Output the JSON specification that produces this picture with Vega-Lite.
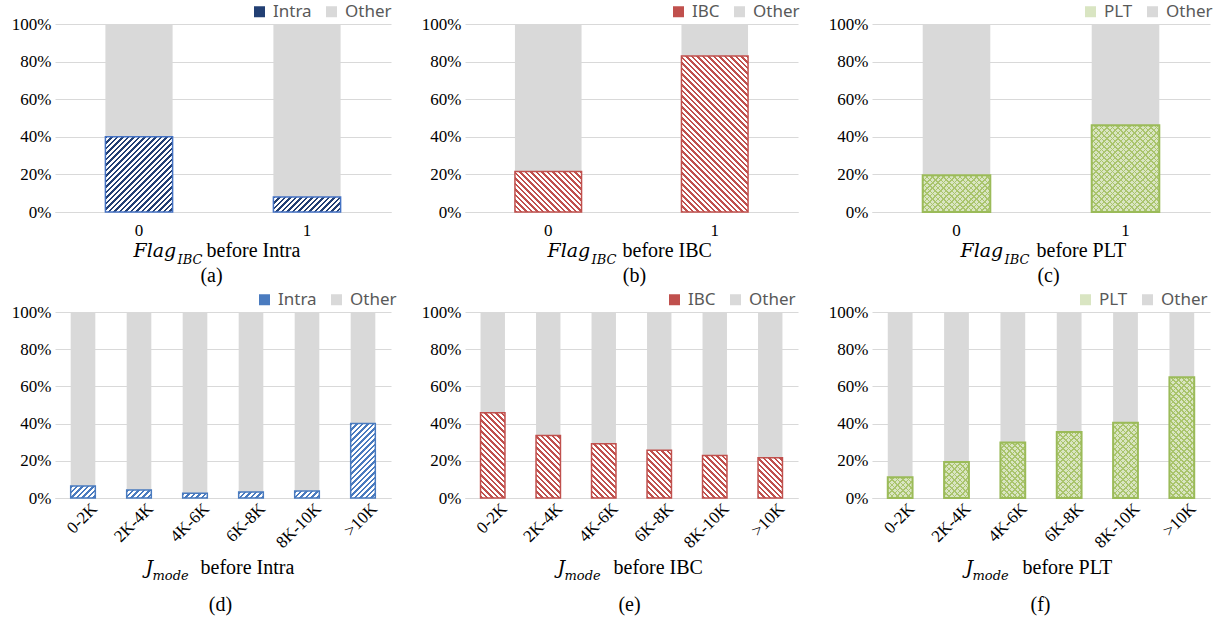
{
"$schema": "https://vega.github.io/schema/vega-lite/v6.json",
"padding": {"left": 11, "top": 3, "right": 5, "bottom": 5},
"params": [{"name": "hatch", "value": [
{"offset":0,"color":"#fff0"},{"offset":0.0102,"color":"#fff0"},{"offset":0.0102,"color":"#fff"},{"offset":0.0227,"color":"#fff"},
{"offset":0.0227,"color":"#fff0"},{"offset":0.033,"color":"#fff0"},{"offset":0.033,"color":"#fff"},{"offset":0.0455,"color":"#fff"},
{"offset":0.0455,"color":"#fff0"},{"offset":0.0557,"color":"#fff0"},{"offset":0.0557,"color":"#fff"},{"offset":0.0682,"color":"#fff"},
{"offset":0.0682,"color":"#fff0"},{"offset":0.0784,"color":"#fff0"},{"offset":0.0784,"color":"#fff"},{"offset":0.0909,"color":"#fff"},
{"offset":0.0909,"color":"#fff0"},{"offset":0.1011,"color":"#fff0"},{"offset":0.1011,"color":"#fff"},{"offset":0.1136,"color":"#fff"},
{"offset":0.1136,"color":"#fff0"},{"offset":0.1239,"color":"#fff0"},{"offset":0.1239,"color":"#fff"},{"offset":0.1364,"color":"#fff"},
{"offset":0.1364,"color":"#fff0"},{"offset":0.1466,"color":"#fff0"},{"offset":0.1466,"color":"#fff"},{"offset":0.1591,"color":"#fff"},
{"offset":0.1591,"color":"#fff0"},{"offset":0.1693,"color":"#fff0"},{"offset":0.1693,"color":"#fff"},{"offset":0.1818,"color":"#fff"},
{"offset":0.1818,"color":"#fff0"},{"offset":0.192,"color":"#fff0"},{"offset":0.192,"color":"#fff"},{"offset":0.2045,"color":"#fff"},
{"offset":0.2045,"color":"#fff0"},{"offset":0.2148,"color":"#fff0"},{"offset":0.2148,"color":"#fff"},{"offset":0.2273,"color":"#fff"},
{"offset":0.2273,"color":"#fff0"},{"offset":0.2375,"color":"#fff0"},{"offset":0.2375,"color":"#fff"},{"offset":0.25,"color":"#fff"},
{"offset":0.25,"color":"#fff0"},{"offset":0.2602,"color":"#fff0"},{"offset":0.2602,"color":"#fff"},{"offset":0.2727,"color":"#fff"},
{"offset":0.2727,"color":"#fff0"},{"offset":0.283,"color":"#fff0"},{"offset":0.283,"color":"#fff"},{"offset":0.2955,"color":"#fff"},
{"offset":0.2955,"color":"#fff0"},{"offset":0.3057,"color":"#fff0"},{"offset":0.3057,"color":"#fff"},{"offset":0.3182,"color":"#fff"},
{"offset":0.3182,"color":"#fff0"},{"offset":0.3284,"color":"#fff0"},{"offset":0.3284,"color":"#fff"},{"offset":0.3409,"color":"#fff"},
{"offset":0.3409,"color":"#fff0"},{"offset":0.3511,"color":"#fff0"},{"offset":0.3511,"color":"#fff"},{"offset":0.3636,"color":"#fff"},
{"offset":0.3636,"color":"#fff0"},{"offset":0.3739,"color":"#fff0"},{"offset":0.3739,"color":"#fff"},{"offset":0.3864,"color":"#fff"},
{"offset":0.3864,"color":"#fff0"},{"offset":0.3966,"color":"#fff0"},{"offset":0.3966,"color":"#fff"},{"offset":0.4091,"color":"#fff"},
{"offset":0.4091,"color":"#fff0"},{"offset":0.4193,"color":"#fff0"},{"offset":0.4193,"color":"#fff"},{"offset":0.4318,"color":"#fff"},
{"offset":0.4318,"color":"#fff0"},{"offset":0.442,"color":"#fff0"},{"offset":0.442,"color":"#fff"},{"offset":0.4545,"color":"#fff"},
{"offset":0.4545,"color":"#fff0"},{"offset":0.4648,"color":"#fff0"},{"offset":0.4648,"color":"#fff"},{"offset":0.4773,"color":"#fff"},
{"offset":0.4773,"color":"#fff0"},{"offset":0.4875,"color":"#fff0"},{"offset":0.4875,"color":"#fff"},{"offset":0.5,"color":"#fff"},
{"offset":0.5,"color":"#fff0"},{"offset":0.5102,"color":"#fff0"},{"offset":0.5102,"color":"#fff"},{"offset":0.5227,"color":"#fff"},
{"offset":0.5227,"color":"#fff0"},{"offset":0.533,"color":"#fff0"},{"offset":0.533,"color":"#fff"},{"offset":0.5455,"color":"#fff"},
{"offset":0.5455,"color":"#fff0"},{"offset":0.5557,"color":"#fff0"},{"offset":0.5557,"color":"#fff"},{"offset":0.5682,"color":"#fff"},
{"offset":0.5682,"color":"#fff0"},{"offset":0.5784,"color":"#fff0"},{"offset":0.5784,"color":"#fff"},{"offset":0.5909,"color":"#fff"},
{"offset":0.5909,"color":"#fff0"},{"offset":0.6011,"color":"#fff0"},{"offset":0.6011,"color":"#fff"},{"offset":0.6136,"color":"#fff"},
{"offset":0.6136,"color":"#fff0"},{"offset":0.6239,"color":"#fff0"},{"offset":0.6239,"color":"#fff"},{"offset":0.6364,"color":"#fff"},
{"offset":0.6364,"color":"#fff0"},{"offset":0.6466,"color":"#fff0"},{"offset":0.6466,"color":"#fff"},{"offset":0.6591,"color":"#fff"},
{"offset":0.6591,"color":"#fff0"},{"offset":0.6693,"color":"#fff0"},{"offset":0.6693,"color":"#fff"},{"offset":0.6818,"color":"#fff"},
{"offset":0.6818,"color":"#fff0"},{"offset":0.692,"color":"#fff0"},{"offset":0.692,"color":"#fff"},{"offset":0.7045,"color":"#fff"},
{"offset":0.7045,"color":"#fff0"},{"offset":0.7148,"color":"#fff0"},{"offset":0.7148,"color":"#fff"},{"offset":0.7273,"color":"#fff"},
{"offset":0.7273,"color":"#fff0"},{"offset":0.7375,"color":"#fff0"},{"offset":0.7375,"color":"#fff"},{"offset":0.75,"color":"#fff"},
{"offset":0.75,"color":"#fff0"},{"offset":0.7602,"color":"#fff0"},{"offset":0.7602,"color":"#fff"},{"offset":0.7727,"color":"#fff"},
{"offset":0.7727,"color":"#fff0"},{"offset":0.783,"color":"#fff0"},{"offset":0.783,"color":"#fff"},{"offset":0.7955,"color":"#fff"},
{"offset":0.7955,"color":"#fff0"},{"offset":0.8057,"color":"#fff0"},{"offset":0.8057,"color":"#fff"},{"offset":0.8182,"color":"#fff"},
{"offset":0.8182,"color":"#fff0"},{"offset":0.8284,"color":"#fff0"},{"offset":0.8284,"color":"#fff"},{"offset":0.8409,"color":"#fff"},
{"offset":0.8409,"color":"#fff0"},{"offset":0.8511,"color":"#fff0"},{"offset":0.8511,"color":"#fff"},{"offset":0.8636,"color":"#fff"},
{"offset":0.8636,"color":"#fff0"},{"offset":0.8739,"color":"#fff0"},{"offset":0.8739,"color":"#fff"},{"offset":0.8864,"color":"#fff"},
{"offset":0.8864,"color":"#fff0"},{"offset":0.8966,"color":"#fff0"},{"offset":0.8966,"color":"#fff"},{"offset":0.9091,"color":"#fff"},
{"offset":0.9091,"color":"#fff0"},{"offset":0.9193,"color":"#fff0"},{"offset":0.9193,"color":"#fff"},{"offset":0.9318,"color":"#fff"},
{"offset":0.9318,"color":"#fff0"},{"offset":0.942,"color":"#fff0"},{"offset":0.942,"color":"#fff"},{"offset":0.9545,"color":"#fff"},
{"offset":0.9545,"color":"#fff0"},{"offset":0.9648,"color":"#fff0"},{"offset":0.9648,"color":"#fff"},{"offset":0.9773,"color":"#fff"},
{"offset":0.9773,"color":"#fff0"},{"offset":0.9875,"color":"#fff0"},{"offset":0.9875,"color":"#fff"},{"offset":1,"color":"#fff"}
]},
{"name": "hatchG", "value": [
{"offset":0,"color":"#a9c46c"},{"offset":0.0068,"color":"#a9c46c"},{"offset":0.0068,"color":"#fff0"},{"offset":0.0227,"color":"#fff0"},
{"offset":0.0227,"color":"#a9c46c"},{"offset":0.0295,"color":"#a9c46c"},{"offset":0.0295,"color":"#fff0"},{"offset":0.0455,"color":"#fff0"},
{"offset":0.0455,"color":"#a9c46c"},{"offset":0.0523,"color":"#a9c46c"},{"offset":0.0523,"color":"#fff0"},{"offset":0.0682,"color":"#fff0"},
{"offset":0.0682,"color":"#a9c46c"},{"offset":0.075,"color":"#a9c46c"},{"offset":0.075,"color":"#fff0"},{"offset":0.0909,"color":"#fff0"},
{"offset":0.0909,"color":"#a9c46c"},{"offset":0.0977,"color":"#a9c46c"},{"offset":0.0977,"color":"#fff0"},{"offset":0.1136,"color":"#fff0"},
{"offset":0.1136,"color":"#a9c46c"},{"offset":0.1204,"color":"#a9c46c"},{"offset":0.1204,"color":"#fff0"},{"offset":0.1364,"color":"#fff0"},
{"offset":0.1364,"color":"#a9c46c"},{"offset":0.1432,"color":"#a9c46c"},{"offset":0.1432,"color":"#fff0"},{"offset":0.1591,"color":"#fff0"},
{"offset":0.1591,"color":"#a9c46c"},{"offset":0.1659,"color":"#a9c46c"},{"offset":0.1659,"color":"#fff0"},{"offset":0.1818,"color":"#fff0"},
{"offset":0.1818,"color":"#a9c46c"},{"offset":0.1886,"color":"#a9c46c"},{"offset":0.1886,"color":"#fff0"},{"offset":0.2045,"color":"#fff0"},
{"offset":0.2045,"color":"#a9c46c"},{"offset":0.2113,"color":"#a9c46c"},{"offset":0.2113,"color":"#fff0"},{"offset":0.2273,"color":"#fff0"},
{"offset":0.2273,"color":"#a9c46c"},{"offset":0.2341,"color":"#a9c46c"},{"offset":0.2341,"color":"#fff0"},{"offset":0.25,"color":"#fff0"},
{"offset":0.25,"color":"#a9c46c"},{"offset":0.2568,"color":"#a9c46c"},{"offset":0.2568,"color":"#fff0"},{"offset":0.2727,"color":"#fff0"},
{"offset":0.2727,"color":"#a9c46c"},{"offset":0.2795,"color":"#a9c46c"},{"offset":0.2795,"color":"#fff0"},{"offset":0.2955,"color":"#fff0"},
{"offset":0.2955,"color":"#a9c46c"},{"offset":0.3023,"color":"#a9c46c"},{"offset":0.3023,"color":"#fff0"},{"offset":0.3182,"color":"#fff0"},
{"offset":0.3182,"color":"#a9c46c"},{"offset":0.325,"color":"#a9c46c"},{"offset":0.325,"color":"#fff0"},{"offset":0.3409,"color":"#fff0"},
{"offset":0.3409,"color":"#a9c46c"},{"offset":0.3477,"color":"#a9c46c"},{"offset":0.3477,"color":"#fff0"},{"offset":0.3636,"color":"#fff0"},
{"offset":0.3636,"color":"#a9c46c"},{"offset":0.3704,"color":"#a9c46c"},{"offset":0.3704,"color":"#fff0"},{"offset":0.3864,"color":"#fff0"},
{"offset":0.3864,"color":"#a9c46c"},{"offset":0.3932,"color":"#a9c46c"},{"offset":0.3932,"color":"#fff0"},{"offset":0.4091,"color":"#fff0"},
{"offset":0.4091,"color":"#a9c46c"},{"offset":0.4159,"color":"#a9c46c"},{"offset":0.4159,"color":"#fff0"},{"offset":0.4318,"color":"#fff0"},
{"offset":0.4318,"color":"#a9c46c"},{"offset":0.4386,"color":"#a9c46c"},{"offset":0.4386,"color":"#fff0"},{"offset":0.4545,"color":"#fff0"},
{"offset":0.4545,"color":"#a9c46c"},{"offset":0.4613,"color":"#a9c46c"},{"offset":0.4613,"color":"#fff0"},{"offset":0.4773,"color":"#fff0"},
{"offset":0.4773,"color":"#a9c46c"},{"offset":0.4841,"color":"#a9c46c"},{"offset":0.4841,"color":"#fff0"},{"offset":0.5,"color":"#fff0"},
{"offset":0.5,"color":"#a9c46c"},{"offset":0.5068,"color":"#a9c46c"},{"offset":0.5068,"color":"#fff0"},{"offset":0.5227,"color":"#fff0"},
{"offset":0.5227,"color":"#a9c46c"},{"offset":0.5295,"color":"#a9c46c"},{"offset":0.5295,"color":"#fff0"},{"offset":0.5455,"color":"#fff0"},
{"offset":0.5455,"color":"#a9c46c"},{"offset":0.5523,"color":"#a9c46c"},{"offset":0.5523,"color":"#fff0"},{"offset":0.5682,"color":"#fff0"},
{"offset":0.5682,"color":"#a9c46c"},{"offset":0.575,"color":"#a9c46c"},{"offset":0.575,"color":"#fff0"},{"offset":0.5909,"color":"#fff0"},
{"offset":0.5909,"color":"#a9c46c"},{"offset":0.5977,"color":"#a9c46c"},{"offset":0.5977,"color":"#fff0"},{"offset":0.6136,"color":"#fff0"},
{"offset":0.6136,"color":"#a9c46c"},{"offset":0.6204,"color":"#a9c46c"},{"offset":0.6204,"color":"#fff0"},{"offset":0.6364,"color":"#fff0"},
{"offset":0.6364,"color":"#a9c46c"},{"offset":0.6432,"color":"#a9c46c"},{"offset":0.6432,"color":"#fff0"},{"offset":0.6591,"color":"#fff0"},
{"offset":0.6591,"color":"#a9c46c"},{"offset":0.6659,"color":"#a9c46c"},{"offset":0.6659,"color":"#fff0"},{"offset":0.6818,"color":"#fff0"},
{"offset":0.6818,"color":"#a9c46c"},{"offset":0.6886,"color":"#a9c46c"},{"offset":0.6886,"color":"#fff0"},{"offset":0.7045,"color":"#fff0"},
{"offset":0.7045,"color":"#a9c46c"},{"offset":0.7113,"color":"#a9c46c"},{"offset":0.7113,"color":"#fff0"},{"offset":0.7273,"color":"#fff0"},
{"offset":0.7273,"color":"#a9c46c"},{"offset":0.7341,"color":"#a9c46c"},{"offset":0.7341,"color":"#fff0"},{"offset":0.75,"color":"#fff0"},
{"offset":0.75,"color":"#a9c46c"},{"offset":0.7568,"color":"#a9c46c"},{"offset":0.7568,"color":"#fff0"},{"offset":0.7727,"color":"#fff0"},
{"offset":0.7727,"color":"#a9c46c"},{"offset":0.7795,"color":"#a9c46c"},{"offset":0.7795,"color":"#fff0"},{"offset":0.7955,"color":"#fff0"},
{"offset":0.7955,"color":"#a9c46c"},{"offset":0.8023,"color":"#a9c46c"},{"offset":0.8023,"color":"#fff0"},{"offset":0.8182,"color":"#fff0"},
{"offset":0.8182,"color":"#a9c46c"},{"offset":0.825,"color":"#a9c46c"},{"offset":0.825,"color":"#fff0"},{"offset":0.8409,"color":"#fff0"},
{"offset":0.8409,"color":"#a9c46c"},{"offset":0.8477,"color":"#a9c46c"},{"offset":0.8477,"color":"#fff0"},{"offset":0.8636,"color":"#fff0"},
{"offset":0.8636,"color":"#a9c46c"},{"offset":0.8704,"color":"#a9c46c"},{"offset":0.8704,"color":"#fff0"},{"offset":0.8864,"color":"#fff0"},
{"offset":0.8864,"color":"#a9c46c"},{"offset":0.8932,"color":"#a9c46c"},{"offset":0.8932,"color":"#fff0"},{"offset":0.9091,"color":"#fff0"},
{"offset":0.9091,"color":"#a9c46c"},{"offset":0.9159,"color":"#a9c46c"},{"offset":0.9159,"color":"#fff0"},{"offset":0.9318,"color":"#fff0"},
{"offset":0.9318,"color":"#a9c46c"},{"offset":0.9386,"color":"#a9c46c"},{"offset":0.9386,"color":"#fff0"},{"offset":0.9545,"color":"#fff0"},
{"offset":0.9545,"color":"#a9c46c"},{"offset":0.9613,"color":"#a9c46c"},{"offset":0.9613,"color":"#fff0"},{"offset":0.9773,"color":"#fff0"},
{"offset":0.9773,"color":"#a9c46c"},{"offset":0.9841,"color":"#a9c46c"},{"offset":0.9841,"color":"#fff0"},{"offset":1,"color":"#fff0"}
]}],
"columns": 3,
"bounds": "flush",
"spacing": {"row": 100, "column": 74},
"resolve": {"scale": {"fill": "independent"}, "legend": {"fill": "independent"}},
"concat": [
{
 "width": 336, "height": 188,
 "data": {"values": [
  {"cat": "0", "series": "Intra", "v": 0.40}, {"cat": "0", "series": "Other", "v": 0.60},
  {"cat": "1", "series": "Intra", "v": 0.08}, {"cat": "1", "series": "Other", "v": 0.92}
 ]},
 "layer": [
  {"mark": {"type": "bar"},
   "encoding": {
    "x": {"field": "cat", "type": "nominal", "sort": null, "scale": {"paddingInner": 0.6, "paddingOuter": 0.3}, "axis": {"orient": "bottom", "labelPadding": 10, "title": "before Intra", "titleX": 151, "titleY": 44}},
    "y": {"field": "v", "type": "quantitative", "stack": "zero", "scale": {"domain": [0, 1], "nice": false}, "axis": {"values": [0, 0.2, 0.4, 0.6, 0.8, 1], "format": ".0%", "title": null}},
    "fill": {"field": "series", "type": "nominal", "scale": {"domain": ["Intra", "Other"], "range": ["#223f73", "#d9d9d9"]}, "legend": {"title": null, "orient": "none", "direction": "horizontal", "legendX": 196, "legendY": -21}},
    "order": {"field": "series", "sort": "ascending"}
   }},
  {"mark": {"type": "bar", "strokeWidth": 1.5,
    "fill": {"expr": "datum.series === 'Other' ? 'transparent' : {gradient: 'linear', x1: 0, y1: 0, x2: 16262.4/(4515.84+pow(188*datum.v,2)), y2: 45496*datum.v/(4515.84+pow(188*datum.v,2)), stops: hatch}"},
    "stroke": {"expr": "datum.series === 'Other' ? null : '#4472c4'"}},
   "encoding": {
    "x": {"field": "cat", "type": "nominal", "sort": null, "axis": null},
    "y": {"field": "v", "type": "quantitative", "stack": "zero", "axis": {"values": [0, 0.2, 0.4, 0.6, 0.8, 1], "format": ".0%", "title": null}},
    "detail": {"field": "series", "type": "nominal"},
    "order": {"field": "series", "sort": "ascending"}
   }},
  {"data": {"values": []}, "mark": {"type": "point", "opacity": 0}, "encoding": {"x": {"field": "cat", "type": "nominal", "sort": null, "axis": {"orient": "bottom", "labels": false, "domain": false, "title": "Flag", "titleX": 78, "titleY": 44, "titleFont": "DejaVu Serif", "titleFontStyle": "italic", "titleFontSize": 19}}, "y": {"field": "v", "type": "quantitative", "axis": {"values": [0, 0.2, 0.4, 0.6, 0.8, 1], "format": ".0%", "title": null}}}},
  {"data": {"values": []}, "mark": {"type": "point", "opacity": 0}, "encoding": {"x": {"field": "cat", "type": "nominal", "sort": null, "axis": {"orient": "bottom", "labels": false, "domain": false, "title": "IBC", "titleX": 122, "titleY": 51, "titleFont": "DejaVu Serif", "titleFontStyle": "italic", "titleFontSize": 13}}, "y": {"field": "v", "type": "quantitative", "axis": {"values": [0, 0.2, 0.4, 0.6, 0.8, 1], "format": ".0%", "title": null}}}},
  {"data": {"values": []}, "mark": {"type": "point", "opacity": 0}, "encoding": {"x": {"field": "cat", "type": "nominal", "sort": null, "axis": {"orient": "bottom", "labels": false, "domain": false, "title": "(a)", "titleX": 156, "titleY": 69, "titleAlign": "center"}}, "y": {"field": "v", "type": "quantitative", "axis": {"values": [0, 0.2, 0.4, 0.6, 0.8, 1], "format": ".0%", "title": null}}}}
 ],
 "resolve": {"axis": {"x": "independent"}}
},
{
 "width": 333, "height": 188,
 "data": {"values": [
  {"cat": "0", "series": "IBC", "v": 0.215}, {"cat": "0", "series": "Other", "v": 0.785},
  {"cat": "1", "series": "IBC", "v": 0.83}, {"cat": "1", "series": "Other", "v": 0.17}
 ]},
 "layer": [
  {"mark": {"type": "bar"},
   "encoding": {
    "x": {"field": "cat", "type": "nominal", "sort": null, "scale": {"paddingInner": 0.6, "paddingOuter": 0.3}, "axis": {"orient": "bottom", "labelPadding": 10, "title": "before IBC", "titleX": 157, "titleY": 44}},
    "y": {"field": "v", "type": "quantitative", "stack": "zero", "scale": {"domain": [0, 1], "nice": false}, "axis": {"values": [0, 0.2, 0.4, 0.6, 0.8, 1], "format": ".0%", "title": null}},
    "fill": {"field": "series", "type": "nominal", "scale": {"domain": ["IBC", "Other"], "range": ["#c0504d", "#d9d9d9"]}, "legend": {"title": null, "orient": "none", "direction": "horizontal", "legendX": 205, "legendY": -21}},
    "order": {"field": "series", "sort": "ascending"}
   }},
  {"mark": {"type": "bar", "strokeWidth": 1.5,
    "fill": {"expr": "datum.series === 'Other' ? 'transparent' : {gradient: 'linear', x1: 0, y1: 1, x2: 16117.2/(4435.56+pow(188*datum.v,2)), y2: 1-45496*datum.v/(4435.56+pow(188*datum.v,2)), stops: hatch}"},
    "stroke": {"expr": "datum.series === 'Other' ? null : '#c0504d'"}},
   "encoding": {
    "x": {"field": "cat", "type": "nominal", "sort": null, "axis": null},
    "y": {"field": "v", "type": "quantitative", "stack": "zero", "axis": {"values": [0, 0.2, 0.4, 0.6, 0.8, 1], "format": ".0%", "title": null}},
    "detail": {"field": "series", "type": "nominal"},
    "order": {"field": "series", "sort": "ascending"}
   }},
  {"data": {"values": []}, "mark": {"type": "point", "opacity": 0}, "encoding": {"x": {"field": "cat", "type": "nominal", "sort": null, "axis": {"orient": "bottom", "labels": false, "domain": false, "title": "Flag", "titleX": 82, "titleY": 44, "titleFont": "DejaVu Serif", "titleFontStyle": "italic", "titleFontSize": 19}}, "y": {"field": "v", "type": "quantitative", "axis": {"values": [0, 0.2, 0.4, 0.6, 0.8, 1], "format": ".0%", "title": null}}}},
  {"data": {"values": []}, "mark": {"type": "point", "opacity": 0}, "encoding": {"x": {"field": "cat", "type": "nominal", "sort": null, "axis": {"orient": "bottom", "labels": false, "domain": false, "title": "IBC", "titleX": 126, "titleY": 51, "titleFont": "DejaVu Serif", "titleFontStyle": "italic", "titleFontSize": 13}}, "y": {"field": "v", "type": "quantitative", "axis": {"values": [0, 0.2, 0.4, 0.6, 0.8, 1], "format": ".0%", "title": null}}}},
  {"data": {"values": []}, "mark": {"type": "point", "opacity": 0}, "encoding": {"x": {"field": "cat", "type": "nominal", "sort": null, "axis": {"orient": "bottom", "labels": false, "domain": false, "title": "(b)", "titleX": 169, "titleY": 69, "titleAlign": "center"}}, "y": {"field": "v", "type": "quantitative", "axis": {"values": [0, 0.2, 0.4, 0.6, 0.8, 1], "format": ".0%", "title": null}}}}
 ],
 "resolve": {"axis": {"x": "independent"}}
},
{
 "width": 338, "height": 188,
 "data": {"values": [
  {"cat": "0", "series": "PLT", "v": 0.196}, {"cat": "0", "series": "Other", "v": 0.804},
  {"cat": "1", "series": "PLT", "v": 0.461}, {"cat": "1", "series": "Other", "v": 0.539}
 ]},
 "layer": [
  {"mark": {"type": "bar"},
   "encoding": {
    "x": {"field": "cat", "type": "nominal", "sort": null, "scale": {"paddingInner": 0.6, "paddingOuter": 0.3}, "axis": {"orient": "bottom", "labelPadding": 10, "title": "before PLT", "titleX": 164, "titleY": 44}},
    "y": {"field": "v", "type": "quantitative", "stack": "zero", "scale": {"domain": [0, 1], "nice": false}, "axis": {"values": [0, 0.2, 0.4, 0.6, 0.8, 1], "format": ".0%", "title": null}},
    "fill": {"field": "series", "type": "nominal", "scale": {"domain": ["PLT", "Other"], "range": ["#d9e5c2", "#d9d9d9"]}, "legend": {"title": null, "orient": "none", "direction": "horizontal", "legendX": 210, "legendY": -21}},
    "order": {"field": "series", "sort": "descending"}
   }},
  {"mark": {"type": "bar",
    "fill": {"expr": "datum.series === 'Other' ? 'transparent' : {gradient: 'linear', x1: 0, y1: 0, x2: 16359.2/(4569.76+pow(188*datum.v,2)), y2: 45496*datum.v/(4569.76+pow(188*datum.v,2)), stops: hatchG}"}},
   "encoding": {
    "x": {"field": "cat", "type": "nominal", "sort": null, "axis": null},
    "y": {"field": "v", "type": "quantitative", "stack": "zero", "axis": {"values": [0, 0.2, 0.4, 0.6, 0.8, 1], "format": ".0%", "title": null}},
    "detail": {"field": "series", "type": "nominal"},
    "order": {"field": "series", "sort": "descending"}
   }},
  {"mark": {"type": "bar", "strokeWidth": 2,
    "fill": {"expr": "datum.series === 'Other' ? 'transparent' : {gradient: 'linear', x1: 0, y1: 1, x2: 16359.2/(4569.76+pow(188*datum.v,2)), y2: 1-45496*datum.v/(4569.76+pow(188*datum.v,2)), stops: hatchG}"},
    "stroke": {"expr": "datum.series === 'Other' ? null : '#9bbb59'"}},
   "encoding": {
    "x": {"field": "cat", "type": "nominal", "sort": null, "axis": null},
    "y": {"field": "v", "type": "quantitative", "stack": "zero", "axis": {"values": [0, 0.2, 0.4, 0.6, 0.8, 1], "format": ".0%", "title": null}},
    "detail": {"field": "series", "type": "nominal"},
    "order": {"field": "series", "sort": "descending"}
   }},
  {"data": {"values": []}, "mark": {"type": "point", "opacity": 0}, "encoding": {"x": {"field": "cat", "type": "nominal", "sort": null, "axis": {"orient": "bottom", "labels": false, "domain": false, "title": "Flag", "titleX": 88, "titleY": 44, "titleFont": "DejaVu Serif", "titleFontStyle": "italic", "titleFontSize": 19}}, "y": {"field": "v", "type": "quantitative", "axis": {"values": [0, 0.2, 0.4, 0.6, 0.8, 1], "format": ".0%", "title": null}}}},
  {"data": {"values": []}, "mark": {"type": "point", "opacity": 0}, "encoding": {"x": {"field": "cat", "type": "nominal", "sort": null, "axis": {"orient": "bottom", "labels": false, "domain": false, "title": "IBC", "titleX": 132, "titleY": 51, "titleFont": "DejaVu Serif", "titleFontStyle": "italic", "titleFontSize": 13}}, "y": {"field": "v", "type": "quantitative", "axis": {"values": [0, 0.2, 0.4, 0.6, 0.8, 1], "format": ".0%", "title": null}}}},
  {"data": {"values": []}, "mark": {"type": "point", "opacity": 0}, "encoding": {"x": {"field": "cat", "type": "nominal", "sort": null, "axis": {"orient": "bottom", "labels": false, "domain": false, "title": "(c)", "titleX": 176, "titleY": 69, "titleAlign": "center"}}, "y": {"field": "v", "type": "quantitative", "axis": {"values": [0, 0.2, 0.4, 0.6, 0.8, 1], "format": ".0%", "title": null}}}}
 ],
 "resolve": {"axis": {"x": "independent"}}
},
{
 "width": 336, "height": 186,
 "data": {"values": [
  {"cat": "0-2K", "series": "Intra", "v": 0.065}, {"cat": "0-2K", "series": "Other", "v": 0.935},
  {"cat": "2K-4K", "series": "Intra", "v": 0.043}, {"cat": "2K-4K", "series": "Other", "v": 0.957},
  {"cat": "4K-6K", "series": "Intra", "v": 0.025}, {"cat": "4K-6K", "series": "Other", "v": 0.975},
  {"cat": "6K-8K", "series": "Intra", "v": 0.032}, {"cat": "6K-8K", "series": "Other", "v": 0.968},
  {"cat": "8K-10K", "series": "Intra", "v": 0.038}, {"cat": "8K-10K", "series": "Other", "v": 0.962},
  {"cat": ">10K", "series": "Intra", "v": 0.40}, {"cat": ">10K", "series": "Other", "v": 0.60}
 ]},
 "layer": [
  {"mark": {"type": "bar"},
   "encoding": {
    "x": {"field": "cat", "type": "nominal", "sort": null, "scale": {"paddingInner": 0.56, "paddingOuter": 0.28}, "axis": {"orient": "bottom", "labelAngle": -45, "labelPadding": 2, "labelOffset": 6, "title": "before Intra", "titleX": 145, "titleY": 75}},
    "y": {"field": "v", "type": "quantitative", "stack": "zero", "scale": {"domain": [0, 1], "nice": false}, "axis": {"values": [0, 0.2, 0.4, 0.6, 0.8, 1], "format": ".0%", "title": null}},
    "fill": {"field": "series", "type": "nominal", "scale": {"domain": ["Intra", "Other"], "range": ["#4a7bbf", "#d9d9d9"]}, "legend": {"title": null, "orient": "none", "direction": "horizontal", "legendX": 201, "legendY": -21}},
    "order": {"field": "series", "sort": "ascending"}
   }},
  {"mark": {"type": "bar", "strokeWidth": 1.5,
    "fill": {"expr": "datum.series === 'Other' ? 'transparent' : {gradient: 'linear', x1: 0, y1: 0, x2: 5962.88/(607.13+pow(186*datum.v,2)), y2: 45012*datum.v/(607.13+pow(186*datum.v,2)), stops: hatch}"},
    "stroke": {"expr": "datum.series === 'Other' ? null : '#4a7bbf'"}},
   "encoding": {
    "x": {"field": "cat", "type": "nominal", "sort": null, "axis": null},
    "y": {"field": "v", "type": "quantitative", "stack": "zero", "axis": {"values": [0, 0.2, 0.4, 0.6, 0.8, 1], "format": ".0%", "title": null}},
    "detail": {"field": "series", "type": "nominal"},
    "order": {"field": "series", "sort": "ascending"}
   }},
  {"data": {"values": []}, "mark": {"type": "point", "opacity": 0}, "encoding": {"x": {"field": "cat", "type": "nominal", "sort": null, "axis": {"orient": "bottom", "labels": false, "domain": false, "title": "J", "titleX": 90, "titleY": 75, "titleFont": "DejaVu Serif", "titleFontStyle": "italic", "titleFontSize": 19}}, "y": {"field": "v", "type": "quantitative", "axis": {"values": [0, 0.2, 0.4, 0.6, 0.8, 1], "format": ".0%", "title": null}}}},
  {"data": {"values": []}, "mark": {"type": "point", "opacity": 0}, "encoding": {"x": {"field": "cat", "type": "nominal", "sort": null, "axis": {"orient": "bottom", "labels": false, "domain": false, "title": "mode", "titleX": 97, "titleY": 81, "titleFont": "DejaVu Serif", "titleFontStyle": "italic", "titleFontSize": 13}}, "y": {"field": "v", "type": "quantitative", "axis": {"values": [0, 0.2, 0.4, 0.6, 0.8, 1], "format": ".0%", "title": null}}}},
  {"data": {"values": []}, "mark": {"type": "point", "opacity": 0}, "encoding": {"x": {"field": "cat", "type": "nominal", "sort": null, "axis": {"orient": "bottom", "labels": false, "domain": false, "title": "(d)", "titleX": 165, "titleY": 112, "titleAlign": "center"}}, "y": {"field": "v", "type": "quantitative", "axis": {"values": [0, 0.2, 0.4, 0.6, 0.8, 1], "format": ".0%", "title": null}}}}
 ],
 "resolve": {"axis": {"x": "independent"}}
},
{
 "width": 333, "height": 186,
 "data": {"values": [
  {"cat": "0-2K", "series": "IBC", "v": 0.458}, {"cat": "0-2K", "series": "Other", "v": 0.542},
  {"cat": "2K-4K", "series": "IBC", "v": 0.336}, {"cat": "2K-4K", "series": "Other", "v": 0.664},
  {"cat": "4K-6K", "series": "IBC", "v": 0.291}, {"cat": "4K-6K", "series": "Other", "v": 0.709},
  {"cat": "6K-8K", "series": "IBC", "v": 0.257}, {"cat": "6K-8K", "series": "Other", "v": 0.743},
  {"cat": "8K-10K", "series": "IBC", "v": 0.228}, {"cat": "8K-10K", "series": "Other", "v": 0.772},
  {"cat": ">10K", "series": "IBC", "v": 0.217}, {"cat": ">10K", "series": "Other", "v": 0.783}
 ]},
 "layer": [
  {"mark": {"type": "bar"},
   "encoding": {
    "x": {"field": "cat", "type": "nominal", "sort": null, "scale": {"paddingInner": 0.56, "paddingOuter": 0.28}, "axis": {"orient": "bottom", "labelAngle": -45, "labelPadding": 2, "labelOffset": 6, "title": "before IBC", "titleX": 148, "titleY": 75}},
    "y": {"field": "v", "type": "quantitative", "stack": "zero", "scale": {"domain": [0, 1], "nice": false}, "axis": {"values": [0, 0.2, 0.4, 0.6, 0.8, 1], "format": ".0%", "title": null}},
    "fill": {"field": "series", "type": "nominal", "scale": {"domain": ["IBC", "Other"], "range": ["#c0504d", "#d9d9d9"]}, "legend": {"title": null, "orient": "none", "direction": "horizontal", "legendX": 201, "legendY": -21}},
    "order": {"field": "series", "sort": "ascending"}
   }},
  {"mark": {"type": "bar", "strokeWidth": 1.5,
    "fill": {"expr": "datum.series === 'Other' ? 'transparent' : {gradient: 'linear', x1: 0, y1: 1, x2: 5909.64/(596.34+pow(186*datum.v,2)), y2: 1-45012*datum.v/(596.34+pow(186*datum.v,2)), stops: hatch}"},
    "stroke": {"expr": "datum.series === 'Other' ? null : '#c0504d'"}},
   "encoding": {
    "x": {"field": "cat", "type": "nominal", "sort": null, "axis": null},
    "y": {"field": "v", "type": "quantitative", "stack": "zero", "axis": {"values": [0, 0.2, 0.4, 0.6, 0.8, 1], "format": ".0%", "title": null}},
    "detail": {"field": "series", "type": "nominal"},
    "order": {"field": "series", "sort": "ascending"}
   }},
  {"data": {"values": []}, "mark": {"type": "point", "opacity": 0}, "encoding": {"x": {"field": "cat", "type": "nominal", "sort": null, "axis": {"orient": "bottom", "labels": false, "domain": false, "title": "J", "titleX": 92, "titleY": 75, "titleFont": "DejaVu Serif", "titleFontStyle": "italic", "titleFontSize": 19}}, "y": {"field": "v", "type": "quantitative", "axis": {"values": [0, 0.2, 0.4, 0.6, 0.8, 1], "format": ".0%", "title": null}}}},
  {"data": {"values": []}, "mark": {"type": "point", "opacity": 0}, "encoding": {"x": {"field": "cat", "type": "nominal", "sort": null, "axis": {"orient": "bottom", "labels": false, "domain": false, "title": "mode", "titleX": 99, "titleY": 81, "titleFont": "DejaVu Serif", "titleFontStyle": "italic", "titleFontSize": 13}}, "y": {"field": "v", "type": "quantitative", "axis": {"values": [0, 0.2, 0.4, 0.6, 0.8, 1], "format": ".0%", "title": null}}}},
  {"data": {"values": []}, "mark": {"type": "point", "opacity": 0}, "encoding": {"x": {"field": "cat", "type": "nominal", "sort": null, "axis": {"orient": "bottom", "labels": false, "domain": false, "title": "(e)", "titleX": 164, "titleY": 112, "titleAlign": "center"}}, "y": {"field": "v", "type": "quantitative", "axis": {"values": [0, 0.2, 0.4, 0.6, 0.8, 1], "format": ".0%", "title": null}}}}
 ],
 "resolve": {"axis": {"x": "independent"}}
},
{
 "width": 338, "height": 186,
 "data": {"values": [
  {"cat": "0-2K", "series": "PLT", "v": 0.111}, {"cat": "0-2K", "series": "Other", "v": 0.889},
  {"cat": "2K-4K", "series": "PLT", "v": 0.194}, {"cat": "2K-4K", "series": "Other", "v": 0.806},
  {"cat": "4K-6K", "series": "PLT", "v": 0.298}, {"cat": "4K-6K", "series": "Other", "v": 0.702},
  {"cat": "6K-8K", "series": "PLT", "v": 0.355}, {"cat": "6K-8K", "series": "Other", "v": 0.645},
  {"cat": "8K-10K", "series": "PLT", "v": 0.405}, {"cat": "8K-10K", "series": "Other", "v": 0.595},
  {"cat": ">10K", "series": "PLT", "v": 0.649}, {"cat": ">10K", "series": "Other", "v": 0.351}
 ]},
 "layer": [
  {"mark": {"type": "bar"},
   "encoding": {
    "x": {"field": "cat", "type": "nominal", "sort": null, "scale": {"paddingInner": 0.56, "paddingOuter": 0.28}, "axis": {"orient": "bottom", "labelAngle": -45, "labelPadding": 2, "labelOffset": 6, "title": "before PLT", "titleX": 150, "titleY": 75}},
    "y": {"field": "v", "type": "quantitative", "stack": "zero", "scale": {"domain": [0, 1], "nice": false}, "axis": {"values": [0, 0.2, 0.4, 0.6, 0.8, 1], "format": ".0%", "title": null}},
    "fill": {"field": "series", "type": "nominal", "scale": {"domain": ["PLT", "Other"], "range": ["#d9e5c2", "#d9d9d9"]}, "legend": {"title": null, "orient": "none", "direction": "horizontal", "legendX": 205, "legendY": -21}},
    "order": {"field": "series", "sort": "descending"}
   }},
  {"mark": {"type": "bar",
    "fill": {"expr": "datum.series === 'Other' ? 'transparent' : {gradient: 'linear', x1: 0, y1: 0, x2: 5999.18/(614.54+pow(186*datum.v,2)), y2: 45012*datum.v/(614.54+pow(186*datum.v,2)), stops: hatchG}"}},
   "encoding": {
    "x": {"field": "cat", "type": "nominal", "sort": null, "axis": null},
    "y": {"field": "v", "type": "quantitative", "stack": "zero", "axis": {"values": [0, 0.2, 0.4, 0.6, 0.8, 1], "format": ".0%", "title": null}},
    "detail": {"field": "series", "type": "nominal"},
    "order": {"field": "series", "sort": "descending"}
   }},
  {"mark": {"type": "bar", "strokeWidth": 2,
    "fill": {"expr": "datum.series === 'Other' ? 'transparent' : {gradient: 'linear', x1: 0, y1: 1, x2: 5999.18/(614.54+pow(186*datum.v,2)), y2: 1-45012*datum.v/(614.54+pow(186*datum.v,2)), stops: hatchG}"},
    "stroke": {"expr": "datum.series === 'Other' ? null : '#9bbb59'"}},
   "encoding": {
    "x": {"field": "cat", "type": "nominal", "sort": null, "axis": null},
    "y": {"field": "v", "type": "quantitative", "stack": "zero", "axis": {"values": [0, 0.2, 0.4, 0.6, 0.8, 1], "format": ".0%", "title": null}},
    "detail": {"field": "series", "type": "nominal"},
    "order": {"field": "series", "sort": "descending"}
   }},
  {"data": {"values": []}, "mark": {"type": "point", "opacity": 0}, "encoding": {"x": {"field": "cat", "type": "nominal", "sort": null, "axis": {"orient": "bottom", "labels": false, "domain": false, "title": "J", "titleX": 93, "titleY": 75, "titleFont": "DejaVu Serif", "titleFontStyle": "italic", "titleFontSize": 19}}, "y": {"field": "v", "type": "quantitative", "axis": {"values": [0, 0.2, 0.4, 0.6, 0.8, 1], "format": ".0%", "title": null}}}},
  {"data": {"values": []}, "mark": {"type": "point", "opacity": 0}, "encoding": {"x": {"field": "cat", "type": "nominal", "sort": null, "axis": {"orient": "bottom", "labels": false, "domain": false, "title": "mode", "titleX": 100, "titleY": 81, "titleFont": "DejaVu Serif", "titleFontStyle": "italic", "titleFontSize": 13}}, "y": {"field": "v", "type": "quantitative", "axis": {"values": [0, 0.2, 0.4, 0.6, 0.8, 1], "format": ".0%", "title": null}}}},
  {"data": {"values": []}, "mark": {"type": "point", "opacity": 0}, "encoding": {"x": {"field": "cat", "type": "nominal", "sort": null, "axis": {"orient": "bottom", "labels": false, "domain": false, "title": "(f)", "titleX": 168, "titleY": 112, "titleAlign": "center"}}, "y": {"field": "v", "type": "quantitative", "axis": {"values": [0, 0.2, 0.4, 0.6, 0.8, 1], "format": ".0%", "title": null}}}}
 ],
 "resolve": {"axis": {"x": "independent"}}
}
],
"config": {
 "font": "Liberation Serif",
 "view": {"stroke": null},
 "axis": {"labelFont": "Liberation Serif", "labelFontSize": 17, "labelColor": "#000000", "titleFont": "Liberation Serif", "titleFontSize": 20, "titleFontWeight": "normal", "titleColor": "#000000", "titleAlign": "left", "titleBaseline": "alphabetic", "ticks": false},
 "axisX": {"labelFont": "Liberation Serif", "labelFontSize": 17, "domainColor": "#d9d9d9", "domainWidth": 1, "labelAngle": 0, "grid": false},
 "axisY": {"labelFont": "Liberation Serif", "labelFontSize": 17, "domain": false, "gridColor": "#d9d9d9", "gridWidth": 1, "labelPadding": 4},
 "legend": {"symbolType": "square", "symbolSize": 121, "symbolStrokeWidth": 0, "labelFont": "Noto Sans", "labelFontSize": 17, "labelColor": "#595959", "columnPadding": 11, "labelOffset": 5, "padding": 0}
}
}
